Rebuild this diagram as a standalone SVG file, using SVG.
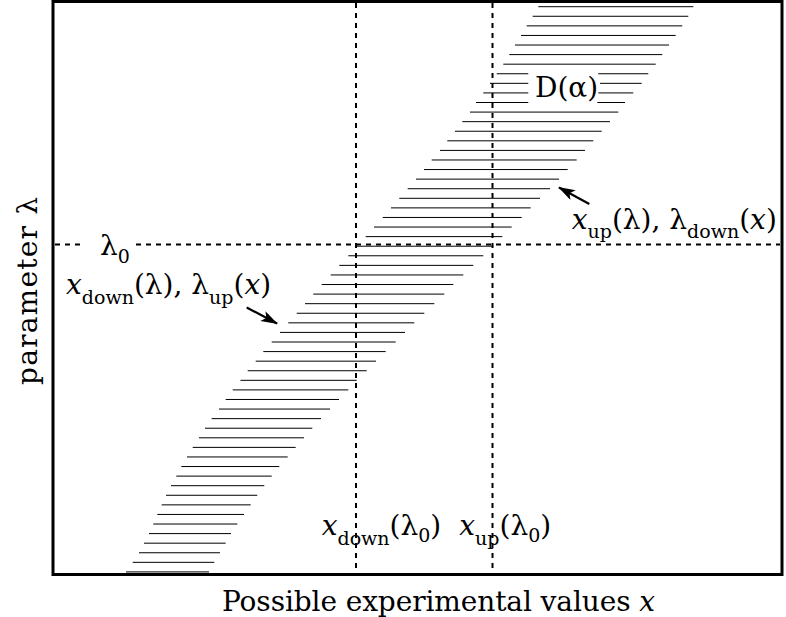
<svg xmlns="http://www.w3.org/2000/svg" width="786" height="617" viewBox="0 0 786 617">
<defs>
<style>
.t{font-family:"DejaVu Serif","Liberation Serif",serif;font-size:28px;fill:#000}
.s{font-size:19px}
.i{font-style:italic}
.h{stroke:#000;stroke-width:1;fill:none}
.d{stroke:#000;stroke-width:2;stroke-dasharray:5 5;fill:none}
.a{stroke:#000;stroke-width:2.2;fill:none}
</style>
<marker id="ah" markerUnits="userSpaceOnUse" viewBox="0 0 17 11" refX="16" refY="5.5" markerWidth="17" markerHeight="11" orient="auto">
<path d="M0,0 L17,5.5 L0,11 L4,5.5 z" fill="#000"/>
</marker>
</defs>
<rect width="786" height="617" fill="#fff"/>
<g id="hatch" class="h">
<line x1="538.3" y1="6.7" x2="693.3" y2="6.7"/>
<line x1="532.7" y1="16.28" x2="688.3" y2="16.28"/>
<line x1="526.7" y1="25.86" x2="682.3" y2="25.86"/>
<line x1="521" y1="35.44" x2="675.7" y2="35.44"/>
<line x1="515" y1="45.02" x2="669" y2="45.02"/>
<line x1="509.3" y1="54.6" x2="662.3" y2="54.6"/>
<line x1="503.3" y1="64.18" x2="655.7" y2="64.18"/>
<line x1="496.7" y1="73.76" x2="528.3" y2="73.76"/><line x1="598.3" y1="73.76" x2="648.3" y2="73.76"/>
<line x1="490" y1="83.34" x2="528.3" y2="83.34"/><line x1="600" y1="83.34" x2="641.7" y2="83.34"/>
<line x1="483.3" y1="92.92" x2="528.3" y2="92.92"/><line x1="598.3" y1="92.92" x2="633.3" y2="92.92"/>
<line x1="476" y1="102.5" x2="528.3" y2="102.5"/><line x1="597.3" y1="102.5" x2="625" y2="102.5"/>
<line x1="470" y1="112.08" x2="618.3" y2="112.08"/>
<line x1="462.3" y1="121.66" x2="610" y2="121.66"/>
<line x1="455" y1="131.24" x2="601.7" y2="131.24"/>
<line x1="447.3" y1="140.82" x2="593.3" y2="140.82"/>
<line x1="440" y1="150.4" x2="585" y2="150.4"/>
<line x1="431.7" y1="159.98" x2="576.7" y2="159.98"/>
<line x1="424" y1="169.56" x2="567.7" y2="169.56"/>
<line x1="416" y1="179.14" x2="559" y2="179.14"/>
<line x1="407.7" y1="188.72" x2="550" y2="188.72"/>
<line x1="399.3" y1="198.3" x2="540" y2="198.3"/>
<line x1="391" y1="207.88" x2="530.7" y2="207.88"/>
<line x1="382.7" y1="217.46" x2="521.7" y2="217.46"/>
<line x1="374" y1="227.04" x2="511.7" y2="227.04"/>
<line x1="365.7" y1="236.62" x2="502.3" y2="236.62"/>
<line x1="356.7" y1="246.2" x2="493.3" y2="246.2"/>
<line x1="348.3" y1="255.78" x2="483.3" y2="255.78"/>
<line x1="339.3" y1="265.36" x2="473.3" y2="265.36"/>
<line x1="330.7" y1="274.94" x2="463.3" y2="274.94"/>
<line x1="321.7" y1="284.52" x2="453.3" y2="284.52"/>
<line x1="313.3" y1="294.1" x2="444.3" y2="294.1"/>
<line x1="305" y1="303.68" x2="434.3" y2="303.68"/>
<line x1="296.7" y1="313.26" x2="424.3" y2="313.26"/>
<line x1="288.3" y1="322.84" x2="414.3" y2="322.84"/>
<line x1="280" y1="332.42" x2="405" y2="332.42"/>
<line x1="271.7" y1="342" x2="395.7" y2="342"/>
<line x1="263.3" y1="351.58" x2="385.7" y2="351.58"/>
<line x1="255.7" y1="361.16" x2="376" y2="361.16"/>
<line x1="247.7" y1="370.74" x2="366.7" y2="370.74"/>
<line x1="240.5" y1="380.32" x2="356.7" y2="380.32"/>
<line x1="232.7" y1="389.9" x2="348.3" y2="389.9"/>
<line x1="225.7" y1="399.48" x2="339" y2="399.48"/>
<line x1="219" y1="409.06" x2="330" y2="409.06"/>
<line x1="211.7" y1="418.64" x2="321" y2="418.64"/>
<line x1="205" y1="428.22" x2="312.3" y2="428.22"/>
<line x1="199" y1="437.8" x2="304" y2="437.8"/>
<line x1="192.7" y1="447.38" x2="295.7" y2="447.38"/>
<line x1="187" y1="456.96" x2="287.7" y2="456.96"/>
<line x1="181.3" y1="466.54" x2="279.3" y2="466.54"/>
<line x1="176.3" y1="476.12" x2="271.7" y2="476.12"/>
<line x1="171" y1="485.7" x2="264.3" y2="485.7"/>
<line x1="166" y1="495.28" x2="257.3" y2="495.28"/>
<line x1="161.7" y1="504.86" x2="250.7" y2="504.86"/>
<line x1="157.3" y1="514.44" x2="244" y2="514.44"/>
<line x1="153.3" y1="524.02" x2="237.3" y2="524.02"/>
<line x1="149" y1="533.6" x2="231" y2="533.6"/>
<line x1="144" y1="543.18" x2="225.7" y2="543.18"/>
<line x1="139" y1="552.76" x2="220" y2="552.76"/>
<line x1="132.7" y1="562.34" x2="214.3" y2="562.34"/>
<line x1="126" y1="571.92" x2="209" y2="571.92"/>
</g>
<g id="guides" class="d">
<line x1="356" y1="3" x2="356" y2="573"/>
<line x1="492.5" y1="3" x2="492.5" y2="573"/>
<line x1="55" y1="244.5" x2="80" y2="244.5"/>
<line x1="136" y1="244.5" x2="780" y2="244.5"/>
</g>
<rect id="frame" x="53" y="1.5" width="729" height="573" fill="none" stroke="#000" stroke-width="3"/>
<g id="connectors" class="a">
<line x1="246.7" y1="307.5" x2="277" y2="323.5" marker-end="url(#ah)"/>
<line x1="589.3" y1="204" x2="559" y2="187.5" marker-end="url(#ah)"/>
</g>
<g id="labels" class="t">
<text x="535" y="96.7">D(α)</text>
<text x="100" y="255">λ<tspan class="s" dy="8">0</tspan></text>
<text x="66" y="294"><tspan class="i">x</tspan><tspan class="s" dy="9.5">down</tspan><tspan dy="-9.5">(λ), λ</tspan><tspan class="s" dy="9.5">up</tspan><tspan dy="-9.5">(</tspan><tspan class="i">x</tspan>)</text>
<text x="571.7" y="228.5"><tspan class="i">x</tspan><tspan class="s" dy="9.5">up</tspan><tspan dy="-9.5">(λ), λ</tspan><tspan class="s" dy="9.5">down</tspan><tspan dy="-9.5">(</tspan><tspan class="i">x</tspan>)</text>
<text x="321.7" y="535"><tspan class="i">x</tspan><tspan class="s" dy="9.5">down</tspan><tspan dy="-9.5">(λ</tspan><tspan class="s" dy="7">0</tspan><tspan dy="-7">)</tspan></text>
<text x="459.3" y="535"><tspan class="i">x</tspan><tspan class="s" dy="9.5">up</tspan><tspan dy="-9.5">(λ</tspan><tspan class="s" dy="7">0</tspan><tspan dy="-7">)</tspan></text>
<text x="222" y="611" textLength="433" lengthAdjust="spacing">Possible experimental values <tspan class="i">x</tspan></text>
<text transform="translate(36.7,385) rotate(-90)" x="0" y="0" textLength="188" lengthAdjust="spacing">parameter λ</text>
</g>
</svg>
